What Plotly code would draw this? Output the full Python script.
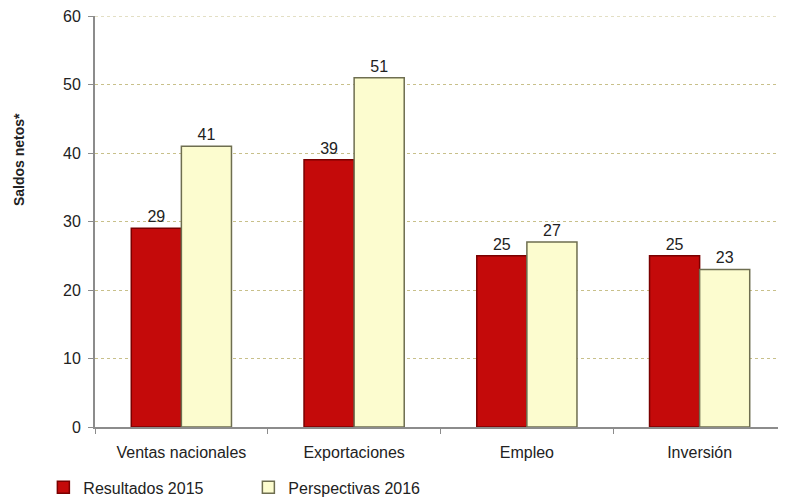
import plotly.graph_objects as go

categories = ["Ventas nacionales", "Exportaciones", "Empleo", "Inversión"]
resultados_2015 = [29, 39, 25, 25]
perspectivas_2016 = [41, 51, 27, 23]
y_ticks = [0, 10, 20, 30, 40, 50, 60]

font = "Liberation Sans, Arial, sans-serif"

fig = go.Figure()
fig.add_trace(go.Bar(
    x=categories, y=resultados_2015, name="Resultados 2015",
    marker=dict(color="#C40A0A", line=dict(color="#7A0000", width=1.5)),
    text=resultados_2015, textposition="outside",
    textfont=dict(size=16, color="#222222", family=font),
    cliponaxis=False,
))
fig.add_trace(go.Bar(
    x=categories, y=perspectivas_2016, name="Perspectivas 2016",
    marker=dict(color="#FCFCCF", line=dict(color="#6E6E50", width=1.5)),
    text=perspectivas_2016, textposition="outside",
    textfont=dict(size=16, color="#222222", family=font),
    cliponaxis=False,
))

fig.update_layout(
    width=786, height=502,
    margin=dict(l=87, r=8, t=8, b=83),
    paper_bgcolor="white", plot_bgcolor="white",
    font=dict(family=font, size=16, color="#222222"),
    barmode="group", bargap=0.42, bargroupgap=0.0,
    showlegend=True,
    legend=dict(
        orientation="h", xref="container", yref="container",
        x=0.045, y=0.045, xanchor="left", yanchor="middle",
        font=dict(size=16, family=font, color="#222222"),
        entrywidth=160, itemwidth=30,
    ),
    annotations=[dict(
        text="<b>Saldos netos*</b>", textangle=-90,
        xref="paper", yref="paper", x=-0.11, y=0.652,
        xanchor="center", yanchor="middle", showarrow=False,
        font=dict(size=14, family=font, color="#222222"),
    )],
)
# top gridline at the last tick (Plotly omits the gridline on the plot edge)
fig.add_shape(type="line", xref="paper", yref="y", x0=0, x1=1,
              y0=y_ticks[-1], y1=y_ticks[-1], layer="below",
              line=dict(color="#C8C08A", width=1, dash="dot"))
fig.update_yaxes(
    range=[0, 60], tickvals=y_ticks, automargin=False,
    showgrid=True, gridcolor="#C8C08A", griddash="dot", gridwidth=1,
    showline=True, linecolor="#8C8C8C", linewidth=2,
    ticks="outside", ticklen=5, tickcolor="#8C8C8C",
    tickfont=dict(size=16), zeroline=False,
    ticklabeloverflow="allow", ticklabelstandoff=4,
)
fig.update_xaxes(
    showline=True, linecolor="#8C8C8C", linewidth=2, automargin=False,
    ticks="outside", ticklen=5, tickcolor="#8C8C8C", tickson="boundaries",
    tickfont=dict(size=16), showgrid=False, ticklabelstandoff=10,
)

fig.write_html("out.html")
